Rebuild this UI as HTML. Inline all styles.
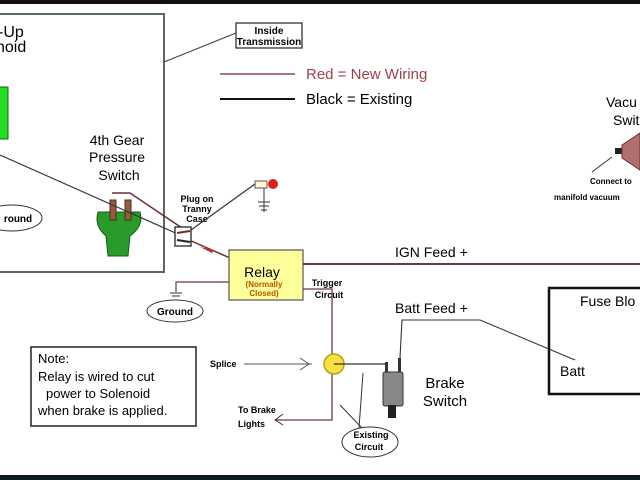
<!DOCTYPE html>
<html><head><style>
body{margin:0;background:#fff;}
svg{display:block;font-family:"Liberation Sans",sans-serif;}
.b{font-weight:bold;}
</style></head><body>
<svg width="640" height="480" viewBox="0 0 640 480" xmlns="http://www.w3.org/2000/svg">
<rect x="0" y="0" width="640" height="4" fill="#111"/>
<rect x="0" y="475" width="640" height="5" fill="#0d1b22"/>
<rect x="-2" y="14" width="166" height="258" fill="none" stroke="#5b6b5b" stroke-width="2"/>
<line x1="164" y1="62" x2="236" y2="33" stroke="#444" stroke-width="1.2"/>
<rect x="236" y="23" width="66" height="25" fill="#fff" stroke="#333" stroke-width="1.3"/>
<text x="269" y="34" font-size="10" text-anchor="middle" class="b">Inside</text>
<text x="269" y="45" font-size="10" text-anchor="middle" class="b">Transmission</text>
<text x="-2" y="37" font-size="16">-Up</text>
<text x="-4" y="52" font-size="16">noid</text>
<rect x="-4" y="87" width="12" height="52" fill="#22dd22" stroke="#116611"/>
<line x1="220" y1="74" x2="295" y2="74" stroke="#8b4a4a" stroke-width="1.5"/>
<line x1="220" y1="99" x2="295" y2="99" stroke="#111" stroke-width="2"/>
<text x="306" y="79" font-size="15" fill="#a0404a">Red = New Wiring</text>
<text x="306" y="104" font-size="15">Black = Existing</text>
<text x="117" y="145" font-size="14" text-anchor="middle">4th Gear</text>
<text x="117" y="162" font-size="14" text-anchor="middle">Pressure</text>
<text x="119" y="180" font-size="14" text-anchor="middle">Switch</text>
<path d="M98 212 L140 212 Q144 226 130 236 L128 256 L108 256 L106 236 Q94 226 98 212Z" fill="#2a9a2a" stroke="#1a5a1a"/>
<rect x="110" y="200" width="6" height="20" fill="#9b5a3a" stroke="#333"/>
<rect x="125" y="200" width="6" height="20" fill="#9b5a3a" stroke="#333"/>
<ellipse cx="12" cy="218" rx="30" ry="13" fill="#fff" stroke="#333"/>
<text x="18" y="222" font-size="10" text-anchor="middle" class="b">round</text>
<line x1="0" y1="155" x2="180" y2="235" stroke="#333" stroke-width="1.2"/>
<polyline points="112,193 130,193 182,228" fill="none" stroke="#6b2f2f" stroke-width="1.5"/>
<line x1="180" y1="236" x2="230" y2="258" stroke="#6b2f2f" stroke-width="1.5"/>
<path d="M200 247 L214 250 L212 253Z" fill="#c03030"/>
<rect x="175" y="227" width="16" height="19" fill="#fff" stroke="#222" stroke-width="1.3"/>
<line x1="177" y1="233" x2="190" y2="231" stroke="#7a2a2a" stroke-width="2"/>
<line x1="177" y1="240" x2="190" y2="242" stroke="#222" stroke-width="2"/>
<text x="197" y="202" font-size="9" text-anchor="middle" class="b">Plug on</text>
<text x="197" y="212" font-size="9" text-anchor="middle" class="b">Tranny</text>
<text x="197" y="222" font-size="9" text-anchor="middle" class="b">Case</text>
<line x1="191" y1="230" x2="255" y2="184" stroke="#333" stroke-width="1.2"/>
<rect x="255" y="181" width="12" height="7" fill="#fff8d0" stroke="#555"/>
<circle cx="273" cy="184" r="5" fill="#d82020"/>
<line x1="264" y1="188" x2="264" y2="212" stroke="#333"/>
<line x1="258" y1="202" x2="270" y2="202" stroke="#333"/><line x1="259" y1="206" x2="269" y2="206" stroke="#333"/><line x1="261" y1="210" x2="267" y2="210" stroke="#333"/>
<rect x="229" y="250" width="74" height="50" fill="#ffff99" stroke="#555" stroke-width="1.2"/>
<text x="262" y="277" font-size="14" text-anchor="middle">Relay</text>
<text x="264" y="287" font-size="8" text-anchor="middle" fill="#c05000" class="b">(Normally</text>
<text x="264" y="296" font-size="8" text-anchor="middle" fill="#c05000" class="b">Closed)</text>
<line x1="303" y1="264" x2="640" y2="264" stroke="#6b3a3a" stroke-width="2"/>
<text x="395" y="257" font-size="14">IGN Feed  +</text>
<polyline points="229,282 176,282 176,292" fill="none" stroke="#6b3a3a" stroke-width="1.2"/>
<line x1="170" y1="293" x2="182" y2="293" stroke="#333"/><line x1="172" y1="296" x2="180" y2="296" stroke="#333"/>
<ellipse cx="175" cy="311" rx="28" ry="11" fill="#fff" stroke="#333"/>
<text x="175" y="315" font-size="10" text-anchor="middle" class="b">Ground</text>
<text x="327" y="286" font-size="9" text-anchor="middle" class="b">Trigger</text>
<text x="329" y="298" font-size="9" text-anchor="middle" class="b">Circuit</text>
<polyline points="303,289 332,289 332,420 275,420" fill="none" stroke="#6b3a3a" stroke-width="1.3"/>
<path d="M283 414 L275 420 L283 425" fill="none" stroke="#333"/>
<text x="238" y="413" font-size="9" class="b">To Brake</text>
<text x="238" y="427" font-size="9" class="b">Lights</text>
<circle cx="334" cy="364" r="10" fill="#f5e040" stroke="#b8a020" stroke-width="1.5"/>
<polyline points="334,364 388,364" fill="none" stroke="#333" stroke-width="1.2"/>
<line x1="244" y1="364" x2="312" y2="364" stroke="#555"/>
<path d="M300 358 L309 364 L300 370" fill="none" stroke="#555"/>
<text x="210" y="367" font-size="9" class="b">Splice</text>
<ellipse cx="370" cy="442" rx="28" ry="15" fill="#fff" stroke="#333"/>
<text x="371" y="438" font-size="9" text-anchor="middle" class="b">Existing</text>
<text x="369" y="450" font-size="9" text-anchor="middle" class="b">Circuit</text>
<line x1="362" y1="428" x2="340" y2="405" stroke="#333"/>
<line x1="359" y1="428" x2="363" y2="373" stroke="#333"/>
<rect x="383" y="372" width="20" height="34" rx="2" fill="#888" stroke="#333"/>
<rect x="388" y="405" width="8" height="13" fill="#222"/>
<rect x="385" y="362" width="3" height="10" fill="#333"/>
<rect x="398" y="358" width="3" height="14" fill="#333"/>
<polyline points="400,358 402,320 480,320 575,360" fill="none" stroke="#333" stroke-width="1.1"/>
<text x="395" y="313" font-size="14">Batt Feed +</text>
<text x="445" y="388" font-size="15" text-anchor="middle">Brake</text>
<text x="445" y="406" font-size="15" text-anchor="middle">Switch</text>
<rect x="31" y="347" width="165" height="79" fill="#fff" stroke="#222" stroke-width="1.5"/>
<text x="38" y="363" font-size="13">Note:</text>
<text x="38" y="381" font-size="13">Relay is wired to cut</text>
<text x="46" y="398" font-size="13">power to Solenoid</text>
<text x="38" y="415" font-size="13">when brake is applied.</text>
<rect x="549" y="288" width="95" height="106" fill="none" stroke="#111" stroke-width="2.5"/>
<text x="580" y="306" font-size="14">Fuse Blo</text>
<text x="560" y="376" font-size="14">Batt</text>
<text x="606" y="107" font-size="14">Vacu</text>
<text x="613" y="125" font-size="14">Swit</text>
<rect x="615" y="148" width="7" height="6" fill="#222"/>
<path d="M622 145 L640 133 L640 170 L622 158Z" fill="#b07070" stroke="#6b3030"/>
<line x1="592" y1="172" x2="612" y2="157" stroke="#333"/>
<text x="590" y="184" font-size="8" class="b">Connect to</text>
<text x="554" y="200" font-size="8" class="b">manifold vacuum</text>
</svg>
</body></html>
